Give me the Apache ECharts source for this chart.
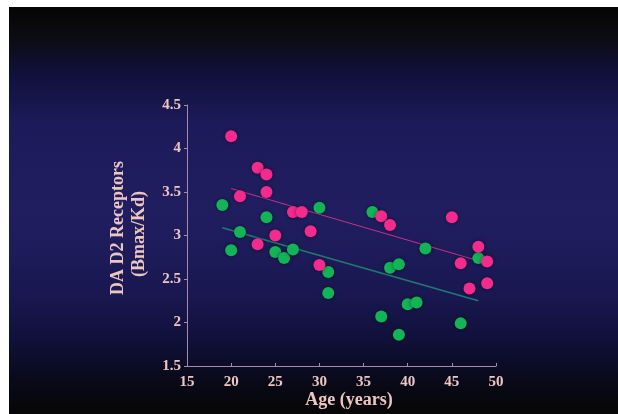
<!DOCTYPE html>
<html>
<head>
<meta charset="utf-8">
<script src="https://cdn.jsdelivr.net/npm/echarts@6/dist/echarts.min.js"></script>
<style>
html,body{margin:0;padding:0;background:#ffffff;}
#chart{width:618px;height:414px;}
</style>
</head>
<body>
<div id="chart"></div>
<script>
// Data
const xTicks = [15, 20, 25, 30, 35, 40, 45, 50];
const yTicks = [1.5, 2, 2.5, 3, 3.5, 4, 4.5];

const pinkAge = [20, 21, 23, 23, 24, 24, 25, 27, 28, 29, 30, 37, 38, 45, 46, 47, 48, 49, 49];
const pinkVal = [4.14, 3.45, 3.78, 2.90, 3.70, 3.50, 3.00, 3.27, 3.27, 3.05, 2.66, 3.22, 3.12, 3.21, 2.68, 2.39, 2.87, 2.70, 2.45];

const greenAge = [19, 20, 21, 24, 25, 26, 27, 30, 31, 31, 36, 37, 38, 39, 39, 40, 41, 42, 46, 48];
const greenVal = [3.35, 2.83, 3.04, 3.21, 2.81, 2.74, 2.84, 3.32, 2.58, 2.34, 3.27, 2.07, 2.63, 2.67, 1.86, 2.21, 2.23, 2.85, 1.99, 2.74];

const pinkFitAge = [20, 49];
const pinkFitVal = [3.54, 2.68];
const greenFitAge = [19, 48];
const greenFitVal = [3.09, 2.25];

const xTitle = 'Age (years)';
const yTitle1 = 'DA D2 Receptors';
const yTitle2 = '(Bmax/Kd)';

const pair = (xs, ys) => xs.map((x, i) => [x, ys[i]]);

const textColor = '#ecc6c0';
const axisColor = '#a48cb0';
const font = '"Liberation Serif", "Times New Roman", serif';

const chart = echarts.init(document.getElementById('chart'), null, {renderer: 'canvas'});
chart.setOption({
  backgroundColor: '#ffffff',
  animation: false,
  graphic: [
    {
      type: 'rect', z: -10, silent: true,
      shape: {x: 9, y: 7, width: 609, height: 407},
      style: {
        fill: new echarts.graphic.LinearGradient(0, 0, 0, 1, [
          {offset: 0, color: '#050505'},
          {offset: 0.08, color: '#0c0c14'},
          {offset: 0.16, color: '#10103a'},
          {offset: 0.28, color: '#1c1a58'},
          {offset: 0.5, color: '#201e60'},
          {offset: 0.7, color: '#1a1852'},
          {offset: 0.82, color: '#10103a'},
          {offset: 0.91, color: '#0a0a1c'},
          {offset: 1, color: '#060606'}
        ])
      }
    },
    {
      type: 'text', x: 349, y: 400, silent: true,
      style: {text: xTitle, fill: textColor, font: 'bold 18px ' + font, textAlign: 'center', textVerticalAlign: 'middle'}
    },
    {
      type: 'text', x: 118, y: 228, rotation: Math.PI / 2, silent: true,
      style: {text: yTitle1, fill: textColor, font: 'bold 18px ' + font, textAlign: 'center', textVerticalAlign: 'middle'}
    },
    {
      type: 'text', x: 139, y: 234, rotation: Math.PI / 2, silent: true,
      style: {text: yTitle2, fill: textColor, font: 'bold 18px ' + font, textAlign: 'center', textVerticalAlign: 'middle'}
    }
  ],
  grid: {left: 187, right: 122, top: 105, bottom: 48, containLabel: false},
  xAxis: {
    type: 'value', min: xTicks[0], max: xTicks[xTicks.length - 1], interval: 5,
    axisLine: {show: true, lineStyle: {color: axisColor, width: 1}},
    axisTick: {show: true, inside: true, length: 3, lineStyle: {color: axisColor}},
    splitLine: {show: false},
    axisLabel: {color: textColor, fontFamily: font, fontWeight: 'bold', fontSize: 15, margin: 9}
  },
  yAxis: {
    type: 'value', min: yTicks[0], max: yTicks[yTicks.length - 1], interval: 0.5,
    axisLine: {show: true, lineStyle: {color: axisColor, width: 1}},
    axisTick: {show: true, inside: false, length: 3, lineStyle: {color: axisColor}},
    splitLine: {show: false},
    axisLabel: {color: textColor, fontFamily: font, fontWeight: 'bold', fontSize: 15, margin: 6,
      formatter: v => String(v)}
  },
  series: [
    {
      type: 'line', data: pair(pinkFitAge, pinkFitVal), symbol: 'none', silent: true, z: 1,
      lineStyle: {color: '#c8308a', width: 1}
    },
    {
      type: 'line', data: pair(greenFitAge, greenFitVal), symbol: 'none', silent: true, z: 1,
      lineStyle: {color: '#1f7a72', width: 1.6}
    },
    {
      type: 'scatter', data: pair(greenAge, greenVal), symbolSize: 12, z: 3,
      itemStyle: {color: '#12b456', opacity: 1, shadowBlur: 4, shadowColor: 'rgba(0,0,0,0.5)'}
    },
    {
      type: 'scatter', data: pair(pinkAge, pinkVal), symbolSize: 12, z: 4,
      itemStyle: {color: '#f42a8c', opacity: 1, shadowBlur: 4, shadowColor: 'rgba(0,0,0,0.5)'}
    }
  ]
});
</script>
</body>
</html>
